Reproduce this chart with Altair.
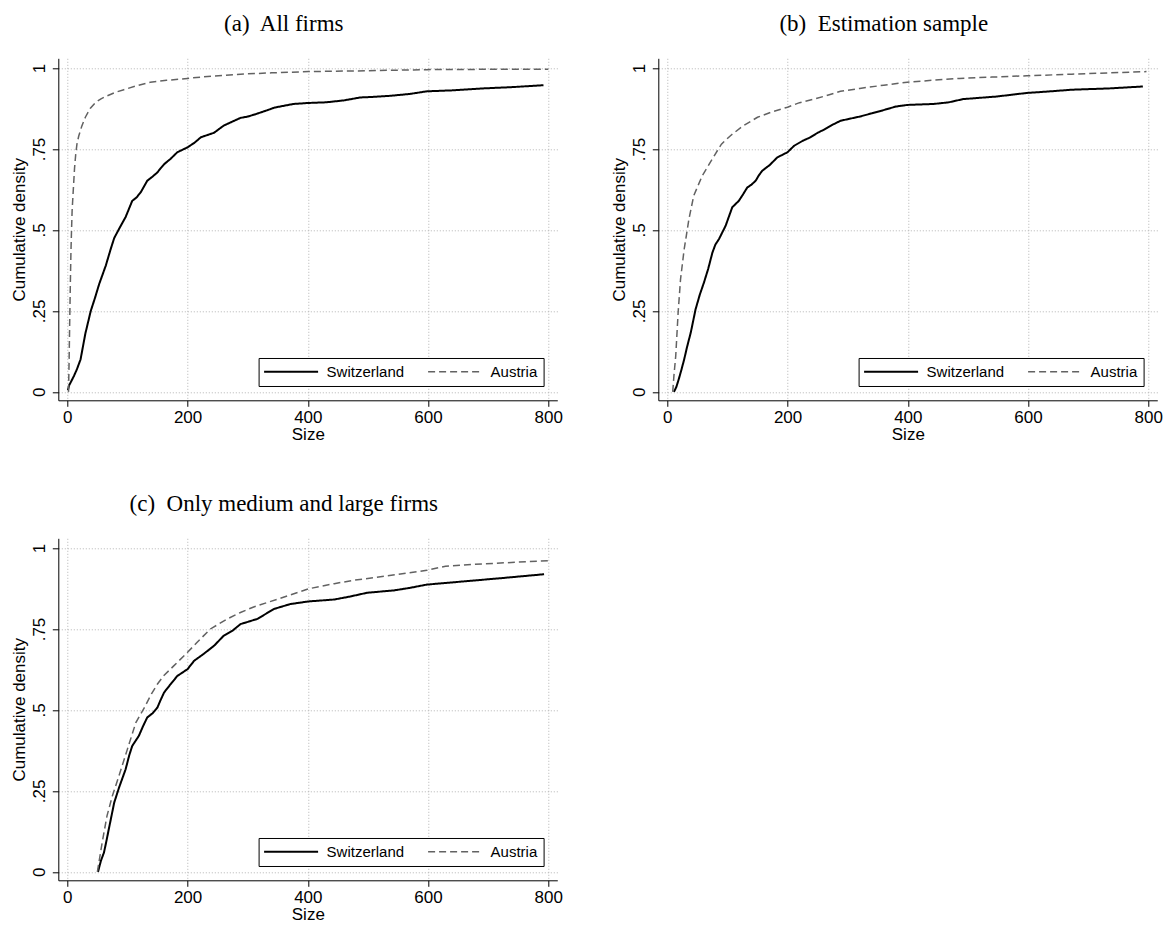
import altair as alt
import pandas as pd

SERIES = ["Switzerland", "Austria"]
TITLES = ["(a)\u00a0 All firms", "(b)\u00a0 Estimation sample", "(c)\u00a0 Only medium and large firms"]
X_TICKS = [0, 200, 400, 600, 800]
Y_TICKS = [0, 0.25, 0.5, 0.75, 1]

# Panel (a): all firms
a_ch_x = [1, 3, 11, 16, 22, 30, 39, 46, 53, 64, 72, 78, 86, 97, 108, 115, 122, 133, 142, 150, 155, 161, 172, 183,
          200, 212, 222, 236, 244, 260, 275, 288, 300, 314, 330, 345, 362, 376, 400, 430, 460, 487, 510, 536, 570,
          598, 640, 691, 740, 792]
a_ch_y = [0.005, 0.02, 0.049, 0.07, 0.10, 0.18, 0.25, 0.29, 0.333, 0.39, 0.44, 0.475, 0.503, 0.54, 0.59, 0.60,
          0.616, 0.652, 0.665, 0.678, 0.69, 0.703, 0.72, 0.74, 0.755, 0.77, 0.786, 0.795, 0.80, 0.822, 0.835, 0.846,
          0.85, 0.858, 0.868, 0.878, 0.884, 0.889, 0.892, 0.894, 0.90, 0.909, 0.911, 0.914, 0.92, 0.928, 0.931,
          0.937, 0.941, 0.947]
a_at_x = [2, 3, 4, 5, 6, 7, 8, 10, 12, 14, 16, 19, 24, 30, 38, 47, 56, 66, 80, 94, 115, 138, 165, 200, 240, 288,
          340, 401, 480, 598, 700, 800]
a_at_y = [0.0, 0.10, 0.22, 0.33, 0.43, 0.50, 0.56, 0.626, 0.69, 0.734, 0.765, 0.79, 0.82, 0.848, 0.875, 0.894,
          0.905, 0.914, 0.925, 0.933, 0.945, 0.956, 0.962, 0.968, 0.975, 0.981, 0.985, 0.989, 0.991, 0.995, 0.996,
          0.996]

# Panel (b): estimation sample
b_ch_x = [11, 15, 19, 23, 28, 33, 39, 47, 54, 61, 68, 75, 80, 86, 97, 108, 119, 126, 133, 140, 147, 152, 158, 170,
          183, 200, 211, 225, 238, 250, 261, 275, 288, 300, 320, 340, 356, 380, 399, 443, 468, 492, 520, 548, 575,
          598, 630, 673, 735, 791]
b_ch_y = [0.0, 0.015, 0.039, 0.065, 0.10, 0.14, 0.183, 0.255, 0.30, 0.338, 0.38, 0.43, 0.455, 0.472, 0.513, 0.57,
          0.59, 0.61, 0.631, 0.64, 0.652, 0.668, 0.683, 0.70, 0.724, 0.74, 0.76, 0.775, 0.786, 0.80, 0.81, 0.825,
          0.837, 0.842, 0.85, 0.86, 0.868, 0.881, 0.886, 0.889, 0.894, 0.904, 0.908, 0.912, 0.918, 0.923, 0.927,
          0.933, 0.937, 0.943]
b_at_x = [9, 11, 14, 18, 22, 28, 36, 44, 58, 78, 90, 105, 125, 150, 175, 200, 220, 244, 265, 288, 320, 360, 399,
          440, 486, 540, 598, 673, 797]
b_at_y = [0.0, 0.05, 0.111, 0.245, 0.348, 0.44, 0.534, 0.606, 0.667, 0.729, 0.765, 0.791, 0.82, 0.848, 0.865,
          0.879, 0.893, 0.904, 0.915, 0.928, 0.937, 0.947, 0.956, 0.962, 0.968, 0.972, 0.976, 0.981, 0.989]

# Panel (c): only medium and large firms
c_ch_x = [51, 53, 56, 61, 65, 69, 78, 86, 97, 103, 108, 119, 126, 133, 142, 150, 155, 161, 172, 183, 200, 211, 226,
          244, 260, 275, 288, 316, 344, 371, 401, 444, 470, 499, 543, 570, 598, 660, 722, 793]
c_ch_y = [0.0, 0.014, 0.035, 0.06, 0.095, 0.132, 0.214, 0.26, 0.317, 0.36, 0.389, 0.42, 0.45, 0.477, 0.49, 0.508,
          0.53, 0.554, 0.58, 0.605, 0.626, 0.652, 0.672, 0.698, 0.729, 0.745, 0.765, 0.781, 0.812, 0.827, 0.835,
          0.841, 0.85, 0.862, 0.869, 0.877, 0.887, 0.897, 0.907, 0.919]
c_at_x = [50, 58, 66, 75, 86, 100, 114, 127, 140, 150, 160, 177, 200, 216, 238, 266, 288, 310, 333, 371, 401, 444,
          475, 536, 598, 629, 691, 800]
c_at_y = [0.0, 0.091, 0.173, 0.235, 0.297, 0.379, 0.461, 0.503, 0.55, 0.58, 0.605, 0.636, 0.678, 0.709, 0.75,
          0.781, 0.801, 0.818, 0.832, 0.855, 0.874, 0.89, 0.9, 0.915, 0.931, 0.944, 0.951, 0.961]

SANS = "Liberation Sans"
SERIF = "Liberation Serif"
W, H = 499, 342


def panel(ch_x, ch_y, at_x, at_y, title):
    df = pd.DataFrame({
        "size": ch_x + at_x,
        "cdf": ch_y + at_y,
        "series": [SERIES[0]] * len(ch_x) + [SERIES[1]] * len(at_x),
    })
    legend = alt.Legend(
        title=None, orient="none", legendX=200.3, legendY=299.7, direction="horizontal",
        symbolType="M-5.4,0L5.4,0", symbolSize=100, symbolOffset=19, labelOffset=28,
        labelFontSize=15, labelFont=SANS, labelColor="black",
        strokeColor="black", fillColor="white", padding=6, columnPadding=20,
        labelLimit=0, cornerRadius=0,
    )
    xaxis = alt.Axis(
        values=X_TICKS, title="Size", titleFont=SANS, titleFontSize=17, titleFontWeight="normal",
        titleColor="black", titleBaseline="alphabetic", titleY=39, titleX=W / 2,
        labelFont=SANS, labelFontSize=17, labelColor="black", labelBaseline="alphabetic", labelPadding=16,
        labelFlush=False, labelOverlap=False,
        tickSize=6, tickColor="black", tickWidth=1, domainColor="black", domainWidth=1,
        grid=True, gridColor="#b4b4b4", gridDash=[1, 2], gridWidth=1,
    )
    yaxis = alt.Axis(
        values=Y_TICKS, title="Cumulative density", titleFont=SANS, titleFontSize=17,
        titleFontWeight="normal", titleColor="black", titleAngle=270, titleAlign="center",
        titleBaseline="alphabetic", titleX=-33.4, titleY=H / 2,
        labelExpr="replace(toString(datum.value), '0.', '.')",
        labelFont=SANS, labelFontSize=17, labelColor="black", labelAngle=270, labelAlign="center",
        labelBaseline="alphabetic", labelPadding=8, labelFlush=False, labelOverlap=False,
        tickSize=6, tickColor="black", tickWidth=1, domainColor="black", domainWidth=1,
        grid=True, gridColor="#b4b4b4", gridDash=[1, 2], gridWidth=1,
    )
    return alt.Chart(df).mark_line(clip=True).encode(
        x=alt.X("size:Q", scale=alt.Scale(domain=[-15, 815], nice=False, zero=False), axis=xaxis),
        y=alt.Y("cdf:Q", scale=alt.Scale(domain=[-0.026, 1.03], nice=False, zero=False), axis=yaxis),
        color=alt.Color("series:N", scale=alt.Scale(domain=SERIES, range=["#000000", "#626262"]), legend=legend),
        strokeDash=alt.StrokeDash("series:N", scale=alt.Scale(domain=SERIES, range=[[1, 0], [7, 4]]),
                                  legend=legend),
        strokeWidth=alt.StrokeWidth("series:N", scale=alt.Scale(domain=SERIES, range=[2.0, 1.5]), legend=legend),
    ).properties(
        width=W, height=H,
        title=alt.TitleParams(text=title, font=SERIF, fontSize=23, fontWeight="normal", color="black",
                              anchor="middle", frame="group", dx=-24, offset=4, baseline="alphabetic"),
    )


pa = panel(a_ch_x, a_ch_y, a_at_x, a_at_y, TITLES[0])
pb = panel(b_ch_x, b_ch_y, b_at_x, b_at_y, TITLES[1])
pc = panel(c_ch_x, c_ch_y, c_at_x, c_at_y, TITLES[2])

chart = alt.concat(
    pa, pb, pc, columns=2, spacing={"row": 138, "column": 101}, bounds="flush",
).resolve_scale(
    color="independent", strokeDash="independent", strokeWidth="independent",
).resolve_legend(
    color="independent", strokeDash="independent", strokeWidth="independent",
).properties(
    padding={"left": 10.3, "top": 13.3, "right": 5, "bottom": 0},
    background="white",
).configure_view(stroke=None)

chart.save("out.html", embed_options={"renderer": "svg", "actions": False})
